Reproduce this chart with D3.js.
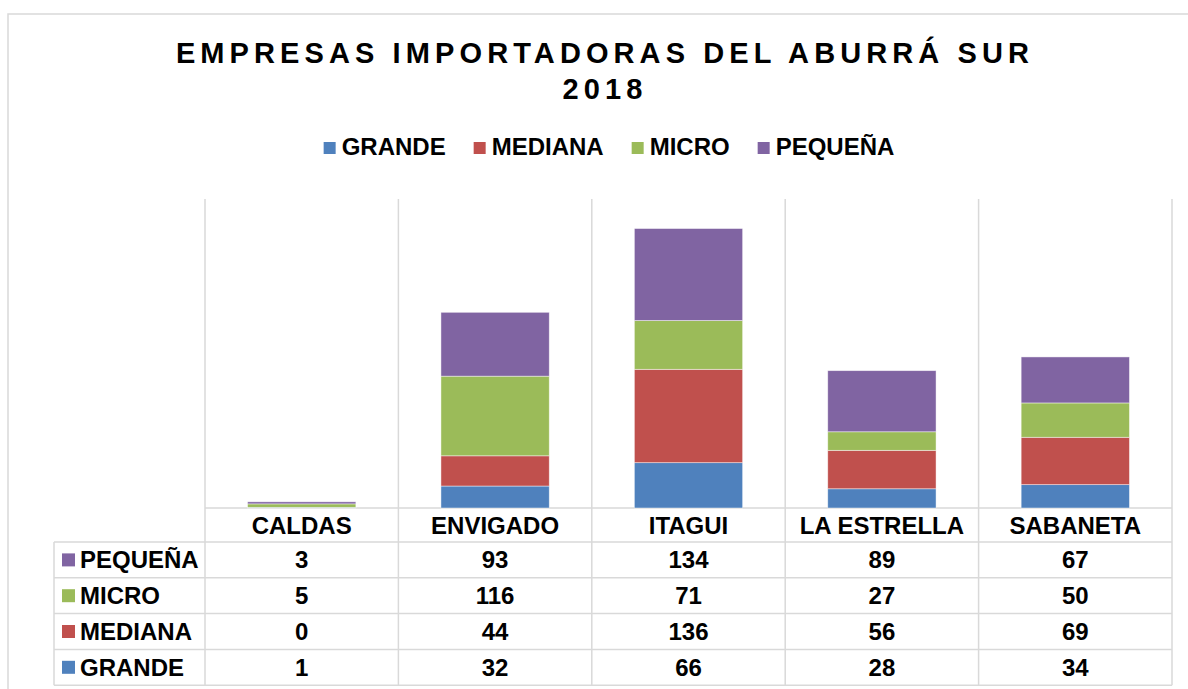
<!DOCTYPE html>
<html>
<head>
<meta charset="utf-8">
<script src="https://cdn.jsdelivr.net/npm/d3@7"></script>
<style>
  body { margin: 0; background: #fff; }
  text { font-family: "Liberation Sans", Arial, sans-serif; font-weight: bold; fill: #000; }
</style>
</head>
<body>
<svg id="chart" width="1188" height="689"></svg>
<script>
const categories = ["CALDAS", "ENVIGADO", "ITAGUI", "LA ESTRELLA", "SABANETA"]
const seriesNames = ["GRANDE", "MEDIANA", "MICRO", "PEQUEÑA"]
const grande = [1, 32, 66, 28, 34]
const mediana = [0, 44, 136, 56, 69]
const micro = [5, 116, 71, 27, 50]
const pequena = [3, 93, 134, 89, 67]
const colors = ["#4f81bd", "#c0504d", "#9bbb59", "#8064a2"]

const renderChart = () => {

    let svg = d3.select("#chart"),
        plot = {left: 205, right: 1172, top: 199, bottom: 508},
        gridColor = "#d9d9d9"

    let rows = categories.map((c, i) => ({
        cat: c, GRANDE: grande[i], MEDIANA: mediana[i], MICRO: micro[i], "PEQUEÑA": pequena[i]
    }))

    let x = d3.scaleBand().domain(categories).range([plot.left, plot.right]).paddingInner(0).paddingOuter(0),
        y = d3.scaleLinear().domain([0, 450]).range([plot.bottom, plot.top]),
        z = d3.scaleOrdinal().domain(seriesNames).range(colors)

    let stacked = d3.stack().keys(seriesNames)(rows)

    // outer border
    svg.append("rect")
        .attr("x", 8).attr("y", 14)
        .attr("width", 1200).attr("height", 700)
        .style("fill", "none").style("stroke", gridColor).style("stroke-width", 1.5)

    // title
    let title = svg.append("text")
        .attr("text-anchor", "middle")
        .style("font-size", "29px")
        .style("letter-spacing", "5.1px")
    title.append("tspan").attr("x", 605).attr("y", 63).text("EMPRESAS IMPORTADORAS DEL ABURRÁ SUR")
    title.append("tspan").attr("x", 605).attr("y", 99).text("2018")

    // legend
    let legend = svg.append("g")
    let lx = 0
    seriesNames.forEach((s, i) => {
        let item = legend.append("g").attr("transform", "translate(" + lx + ",0)")
        item.append("rect").attr("x", 0).attr("y", 142).attr("width", 12).attr("height", 12).style("fill", z(s))
        let t = item.append("text").attr("x", 18).attr("y", 155).style("font-size", "24px").text(s)
        lx += 18 + t.node().getComputedTextLength() + 28
    })
    let legendWidth = lx - 28
    legend.attr("transform", "translate(" + (609 - legendWidth / 2) + ",0)")

    // gridlines / table lines
    let tableTop = 542, rowH = 35.8, tableBottom = tableTop + rowH * 4
    let bounds = categories.map(c => x(c)).concat([plot.right])

    svg.selectAll(".vline")
        .data(bounds)
        .enter().append("line")
        .attr("x1", d => d).attr("x2", d => d)
        .attr("y1", plot.top).attr("y2", tableBottom)
        .style("stroke", gridColor).style("stroke-width", 1.5)

    svg.append("line")
        .attr("x1", plot.left).attr("x2", plot.right)
        .attr("y1", plot.bottom).attr("y2", plot.bottom)
        .style("stroke", gridColor).style("stroke-width", 1.5)

    svg.selectAll(".hline")
        .data(d3.range(5))
        .enter().append("line")
        .attr("x1", 54).attr("x2", plot.right)
        .attr("y1", d => tableTop + d * rowH).attr("y2", d => tableTop + d * rowH)
        .style("stroke", gridColor).style("stroke-width", 1.5)

    svg.append("line")
        .attr("x1", 54).attr("x2", 54)
        .attr("y1", tableTop).attr("y2", tableBottom)
        .style("stroke", gridColor).style("stroke-width", 1.5)

    // bars
    let barW = x.bandwidth() * 0.56

    let layer = svg.selectAll(".layer")
        .data(stacked)
        .enter().append("g")
        .attr("class", "layer")
        .style("fill", d => z(d.key))

    layer.selectAll("rect")
        .data(d => d)
        .enter().append("rect")
        .attr("x", d => x(d.data.cat) + (x.bandwidth() - barW) / 2)
        .attr("y", d => y(d[1]))
        .attr("width", barW)
        .attr("height", d => y(d[0]) - y(d[1]))
        .style("stroke", "#fff")
        .style("stroke-opacity", 0.6)
        .style("stroke-width", 0.75)

    // table header
    svg.selectAll(".catLabel")
        .data(categories)
        .enter().append("text")
        .attr("x", d => x(d) + x.bandwidth() / 2)
        .attr("y", 534)
        .attr("text-anchor", "middle")
        .style("font-size", "24px")
        .text(d => d)

    // table rows (top row is last series)
    let tableSeries = seriesNames.slice().reverse()
    let values = {GRANDE: grande, MEDIANA: mediana, MICRO: micro, "PEQUEÑA": pequena}

    tableSeries.forEach((s, r) => {
        let cy = tableTop + r * rowH + rowH / 2
        svg.append("rect")
            .attr("x", 62).attr("y", cy - 6.5)
            .attr("width", 13).attr("height", 13)
            .style("fill", z(s))
        svg.append("text")
            .attr("x", 80).attr("y", cy + 8.5)
            .style("font-size", "24px")
            .text(s)
        svg.selectAll(".val" + r)
            .data(values[s])
            .enter().append("text")
            .attr("x", (d, i) => x(categories[i]) + x.bandwidth() / 2)
            .attr("y", cy + 8.5)
            .attr("text-anchor", "middle")
            .style("font-size", "24px")
            .text(d => d)
    })
}

renderChart()
</script>
</body>
</html>
